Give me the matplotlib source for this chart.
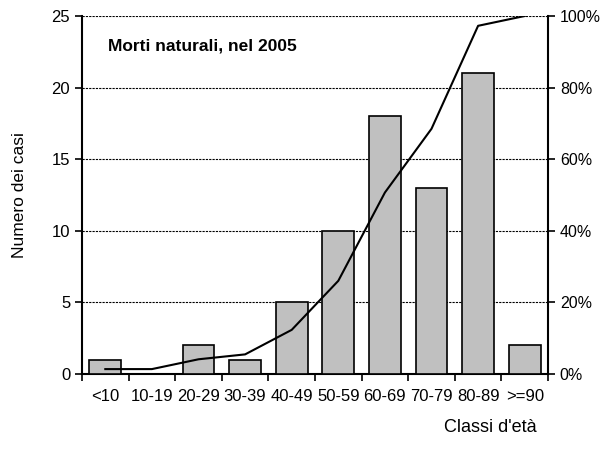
import matplotlib.pyplot as plt
import numpy as np

plt.rcParams['font.family'] = ['Liberation Sans', 'DejaVu Sans']

classes = ['<10', '10-19', '20-29', '30-39', '40-49', '50-59',
           '60-69', '70-79', '80-89', '>=90']
casi = [1, 0, 2, 1, 5, 10, 18, 13, 21, 2]

cum_pct = np.cumsum(casi) / sum(casi) * 100

fig = plt.figure(figsize=(6.04, 4.57), dpi=100)
ax = fig.add_axes([82 / 604, 1 - 374 / 457, 466 / 604, 358 / 457])

x = np.arange(len(classes))
ax.bar(x, casi, width=0.68, color='#c0c0c0', edgecolor='black', linewidth=1.2, zorder=3)
ax.set_xlim(-0.5, len(classes) - 0.5)
ax.set_ylim(0, 25)
ax.set_yticks([0, 5, 10, 15, 20, 25])
ax.yaxis.grid(True, linestyle=(0, (2, 1)), color='black', linewidth=0.8)
ax.set_axisbelow(True)

# ticks between the classes, labels centred under bars
ax.set_xticks(np.arange(-0.5, len(classes)), minor=False)
ax.set_xticklabels([])
ax.set_xticks(x, minor=True)
ax.set_xticklabels(classes, minor=True)
ax.tick_params(axis='x', which='major', direction='out', length=5, width=1.2)
ax.tick_params(axis='x', which='minor', length=0, pad=11, labelsize=12)
ax.tick_params(axis='y', direction='out', length=5, width=1.2, labelsize=12)

for s in ['top', 'right']:
    ax.spines[s].set_visible(False)
ax.spines['left'].set_linewidth(1.5)
ax.spines['bottom'].set_linewidth(1.5)

ax2 = ax.twinx()
ax2.plot(x, cum_pct, color='black', linewidth=1.5, zorder=4)
ax2.set_ylim(0, 100)
ax2.set_yticks([0, 20, 40, 60, 80, 100])
ax2.set_yticklabels([f'{v}%' for v in [0, 20, 40, 60, 80, 100]])
ax2.tick_params(axis='y', direction='out', length=5, width=1.2, labelsize=11.5)
for s in ['top', 'left', 'bottom']:
    ax2.spines[s].set_visible(False)
ax2.spines['right'].set_linewidth(1.5)

ax.text(0.055, 0.915, 'Morti naturali, nel 2005', transform=ax.transAxes,
        fontsize=12.5, fontweight='bold', va='center')
ax.set_ylabel('Numero dei casi', fontsize=12.5, labelpad=18)
fig.text(490 / 604, 1 - 428 / 457, "Classi d'età", fontsize=13, ha='center', va='center')

fig.savefig('out.png', dpi=100)
